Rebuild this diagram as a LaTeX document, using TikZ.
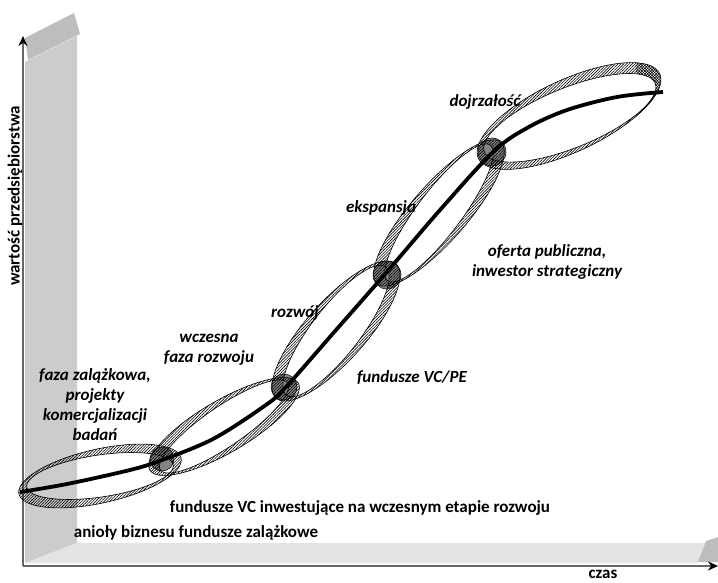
\documentclass[tikz,border=0pt]{standalone}
\usepackage{fontspec}
\setmainfont{Carlito}
\usetikzlibrary{patterns.meta,arrows.meta}
\tikzset{
 lbl/.style={font=\bfseries\itshape\fontsize{17}{20}\selectfont, align=center, inner sep=0pt},
 blbl/.style={font=\bfseries\fontsize{17}{20}\selectfont, inner sep=0pt},
 ringfill/.style={pattern={Lines[angle=45,distance=2pt,line width=0.6pt]}, even odd rule, draw=black, line width=0.6pt},
 crossfill/.style={pattern={Lines[angle=-45,distance=2pt,line width=0.6pt]}, even odd rule},
 junc/.style={fill=black!60, fill opacity=0.8, draw=black, line width=0.5pt},
 axisline/.style={line width=2.4pt, draw=black!60, -{Stealth[length=10pt,width=9pt,black]}},
 curveline/.style={line width=3.8pt},
 wallface/.style={fill=black!20},
 capface/.style={fill=black!26},
 floorface/.style={fill=black!11}
}
% ring path: cx cy theta a b phi ta tb v0
\newcommand\rngpath[9]{%
 plot[domain=0:360,samples=144] ({#1+#4*cos(\x)*cos(#3)-#5*sin(\x)*sin(#3)},{#2-#4*cos(\x)*sin(#3)-#5*sin(\x)*cos(#3)}) -- cycle
 plot[domain=0:360,samples=144] ({#1+((#4-#7)*cos(\x)*cos(#6)-(#5-#8)*sin(\x)*sin(#6))*cos(#3)-((#4-#7)*cos(\x)*sin(#6)+(#5-#8)*sin(\x)*cos(#6)+#9)*sin(#3)},{#2-((#4-#7)*cos(\x)*cos(#6)-(#5-#8)*sin(\x)*sin(#6))*sin(#3)-((#4-#7)*cos(\x)*sin(#6)+(#5-#8)*sin(\x)*cos(#6)+#9)*cos(#3)}) -- cycle}
\begin{document}
\begin{tikzpicture}[x=1pt,y=-1pt]
\useasboundingbox (0,0) rectangle (718,583);
% 3D background ribbons
\fill[wallface] (25,62) -- (77,36) -- (77,543) -- (25,563) -- cycle;
\fill[capface] (25,38) -- (74,13) -- (80,34) -- (28,60) -- cycle;
\fill[floorface] (25,563) -- (77,543) -- (705,543) -- (698,563) -- cycle;
\fill[capface] (698,562) -- (706,541) -- (718,537) -- (718,562) -- cycle;
% axes
\coordinate (O) at (23,566);
\coordinate (Ytop) at (23,36);
\coordinate (Xend) at (718,566);
\draw[axisline] (O) -- (Ytop);
\draw[axisline] (O) -- (Xend);
% junction circles
\node[junc, circle, minimum size=24pt, inner sep=0pt] (j1) at (162,459) {};
\node[junc, circle, minimum size=26pt, inner sep=0pt] (j2) at (284,387) {};
\node[junc, circle, minimum size=28pt, inner sep=0pt] (j3) at (387,275) {};
\node[junc, circle, minimum size=28pt, inner sep=0pt] (j4) at (492,152) {};
% rings
\path[ringfill] \rngpath{100}{476}{12.5}{83}{27}{-4}{9}{6}{0};
\path[ringfill] \rngpath{224}{426.5}{30.4}{86}{26}{4}{9}{6}{0};
\path[ringfill] \rngpath{336}{331}{48.2}{90}{30}{4}{9}{6}{0};
\path[ringfill] \rngpath{439}{213}{48.9}{94}{28}{4}{9}{6}{0};
\path[ringfill] \rngpath{569}{116}{25}{100}{36}{-3}{8}{6}{-2};
\begin{scope}
\clip (636,50) rectangle (675,100);
\path[crossfill] \rngpath{569}{116}{25}{100}{36}{-3}{8}{6}{-2};
\end{scope}
% value curve
\draw[curveline] plot[smooth, tension=0.55] coordinates {(20,492) (67,484) (130,470) (162,460) (213,439) (263,407) (285,388) (336,330) (386,273) (440,210) (493,152) (527,128) (567,110) (617,97) (663,92)};
% labels
\node[lbl] (seed) at (95,405) {faza zalążkowa,\\projekty\\komercjalizacji\\badań};
\node[lbl] (early) at (209,350) {wczesna\\faza rozwoju};
\node[lbl] (dev) at (295,313) {rozwój};
\node[lbl] (exp) at (381,208) {ekspansja};
\node[lbl] (mat) at (485,102) {dojrzałość};
\node[lbl] (ipo) at (547,262) {oferta publiczna,\\inwestor strategiczny};
\node[lbl] (vcpe) at (412,378) {fundusze VC/PE};
\node[blbl] (vc) at (360,508) {fundusze VC inwestujące na wczesnym etapie rozwoju};
\node[blbl] (ang) at (196,533) {anioły biznesu fundusze zalążkowe};
\node[blbl, anchor=base] (time) at (603,578) {czas};
\node[blbl, rotate=90] (val) at (15,196) {wartość przedsiębiorstwa};
\end{tikzpicture}
\end{document}
